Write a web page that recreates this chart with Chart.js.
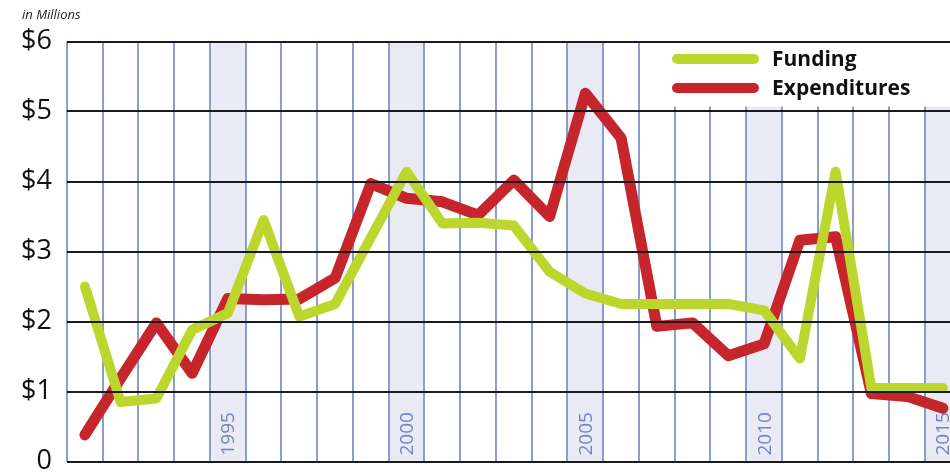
<!DOCTYPE html>
<html>
<head>
<meta charset="utf-8">
<script src="https://cdn.jsdelivr.net/npm/chart.js@4.4.1/dist/chart.umd.min.js"></script>
<style>
  html, body { margin: 0; padding: 0; background: #fff; }
  #wrap { width: 950px; height: 475px; position: relative; }
</style>
</head>
<body>
<div id="wrap"><canvas id="chart1"></canvas></div>
<script>
// Data
const years = [1991, 1992, 1993, 1994, 1995, 1996, 1997, 1998, 1999, 2000, 2001, 2002, 2003,
  2004, 2005, 2006, 2007, 2008, 2009, 2010, 2011, 2012, 2013, 2014, 2015];
const funding = [2.50, 0.85, 0.90, 1.88, 2.12, 3.45, 2.07, 2.25, 3.20, 4.14, 3.40, 3.41, 3.37,
  2.71, 2.40, 2.25, 2.25, 2.25, 2.25, 2.16, 1.47, 4.14, 1.05, 1.05, 1.05];
const expenditures = [0.38, 1.19, 1.98, 1.26, 2.33, 2.31, 2.32, 2.62, 3.97, 3.76, 3.71, 3.52, 4.02,
  3.50, 5.26, 4.62, 1.93, 1.98, 1.51, 1.68, 3.16, 3.21, 0.97, 0.93, 0.76];
const labelledYears = [1995, 2000, 2005, 2010, 2015];
const yTicks = [0, 1, 2, 3, 4, 5, 6];

const green = '#bdd62e';
const red = '#c5252b';
const blue = '#8a9dcb';
const band = '#e9eaf4';

// Shaded year bands, labels and the legend box
const decor = {
  id: 'decor',
  beforeDraw(chart) {
    const ctx = chart.ctx;
    const x = chart.scales.x;
    const area = chart.chartArea;
    ctx.save();
    ctx.fillStyle = band;
    labelledYears.forEach(yr => {
      const x0 = x.getPixelForValue(yr - 0.5);
      const x1 = x.getPixelForValue(yr + 0.5);
      ctx.fillRect(x0, area.top, x1 - x0, area.bottom - area.top);
    });
    ctx.restore();
  },
  beforeDatasetsDraw(chart) {
    const ctx = chart.ctx;
    const x = chart.scales.x;
    const y = chart.scales.y;
    ctx.save();
    // white box behind the legend
    ctx.fillStyle = '#fff';
    ctx.fillRect(x.getPixelForValue(2006.6), 0, chart.width, y.getPixelForValue(5) - 5);
    // year labels inside the bands
    ctx.fillStyle = '#6f86c0';
    ctx.font = '19px "Open Sans"';
    ctx.textAlign = 'left';
    ctx.textBaseline = 'middle';
    labelledYears.forEach(yr => {
      ctx.save();
      ctx.translate(x.getPixelForValue(yr), y.getPixelForValue(0) - 6);
      ctx.rotate(-Math.PI / 2);
      ctx.fillText(String(yr), 0, 1);
      ctx.restore();
    });
    ctx.restore();
  },
  afterDraw(chart) {
    const ctx = chart.ctx;
    ctx.save();
    // unit note
    ctx.fillStyle = '#222';
    ctx.font = 'italic 13px "Open Sans"';
    ctx.textAlign = 'left';
    ctx.textBaseline = 'middle';
    ctx.fillText('in Millions', 22, 15);
    // legend
    const items = [['Funding', green, 59], ['Expenditures', red, 88]];
    ctx.lineCap = 'round';
    ctx.lineWidth = 10;
    items.forEach(([text, color, ly]) => {
      ctx.strokeStyle = color;
      ctx.beginPath();
      ctx.moveTo(677, ly);
      ctx.lineTo(754, ly);
      ctx.stroke();
      ctx.fillStyle = '#111';
      ctx.font = 'bold 21px "Open Sans"';
      ctx.fillText(text, 772, ly + 1);
    });
    ctx.restore();
  }
};

const toPoints = vals => vals.map((v, i) => ({ x: years[i], y: v }));

// Chart configuration
const chartConfig = {
  type: 'line',
  data: {
    datasets: [
      {
        label: 'Funding',
        data: toPoints(funding),
        borderColor: green,
        borderWidth: 10,
      },
      {
        label: 'Expenditures',
        data: toPoints(expenditures),
        borderColor: red,
        borderWidth: 11,
      },
    ],
  },
  options: {
    responsive: false,
    animation: false,
    layout: { padding: { top: 41.5, right: 0, bottom: 13.5, left: 0 } },
    elements: {
      point: { radius: 0 },
      line: { tension: 0, borderJoinStyle: 'round', borderCapStyle: 'round', fill: false },
    },
    plugins: {
      legend: { display: false },
      tooltip: { enabled: false },
    },
    scales: {
      x: {
        type: 'linear',
        min: 1990.5,
        max: 2015.2,
        afterBuildTicks: scale => {
          scale.ticks = years.map(yr => ({ value: yr - 0.5 })).concat([{ value: 2015.5 }]);
        },
        afterFit: scale => { scale.height = 0; },
        ticks: { display: false },
        border: { display: false },
        grid: { color: blue, lineWidth: 2, drawTicks: false },
      },
      y: {
        min: 0,
        max: 6,
        afterBuildTicks: scale => {
          scale.ticks = yTicks.map(v => ({ value: v }));
        },
        afterFit: scale => {
          scale.width = 67;
          scale.paddingTop = 0;
          scale.paddingBottom = 0;
        },
        ticks: {
          color: '#111',
          padding: 15,
          font: { family: 'Open Sans', size: 27 },
          callback: v => (v === 0 ? '0' : '$' + v),
        },
        border: { display: false },
        grid: { color: '#1a1a1a', lineWidth: 2, drawTicks: false, z: 1 },
      },
    },
  },
  plugins: [decor],
};

const canvas = document.getElementById('chart1');
canvas.width = 950;
canvas.height = 475;
new Chart(canvas.getContext('2d'), chartConfig);
</script>
</body>
</html>
